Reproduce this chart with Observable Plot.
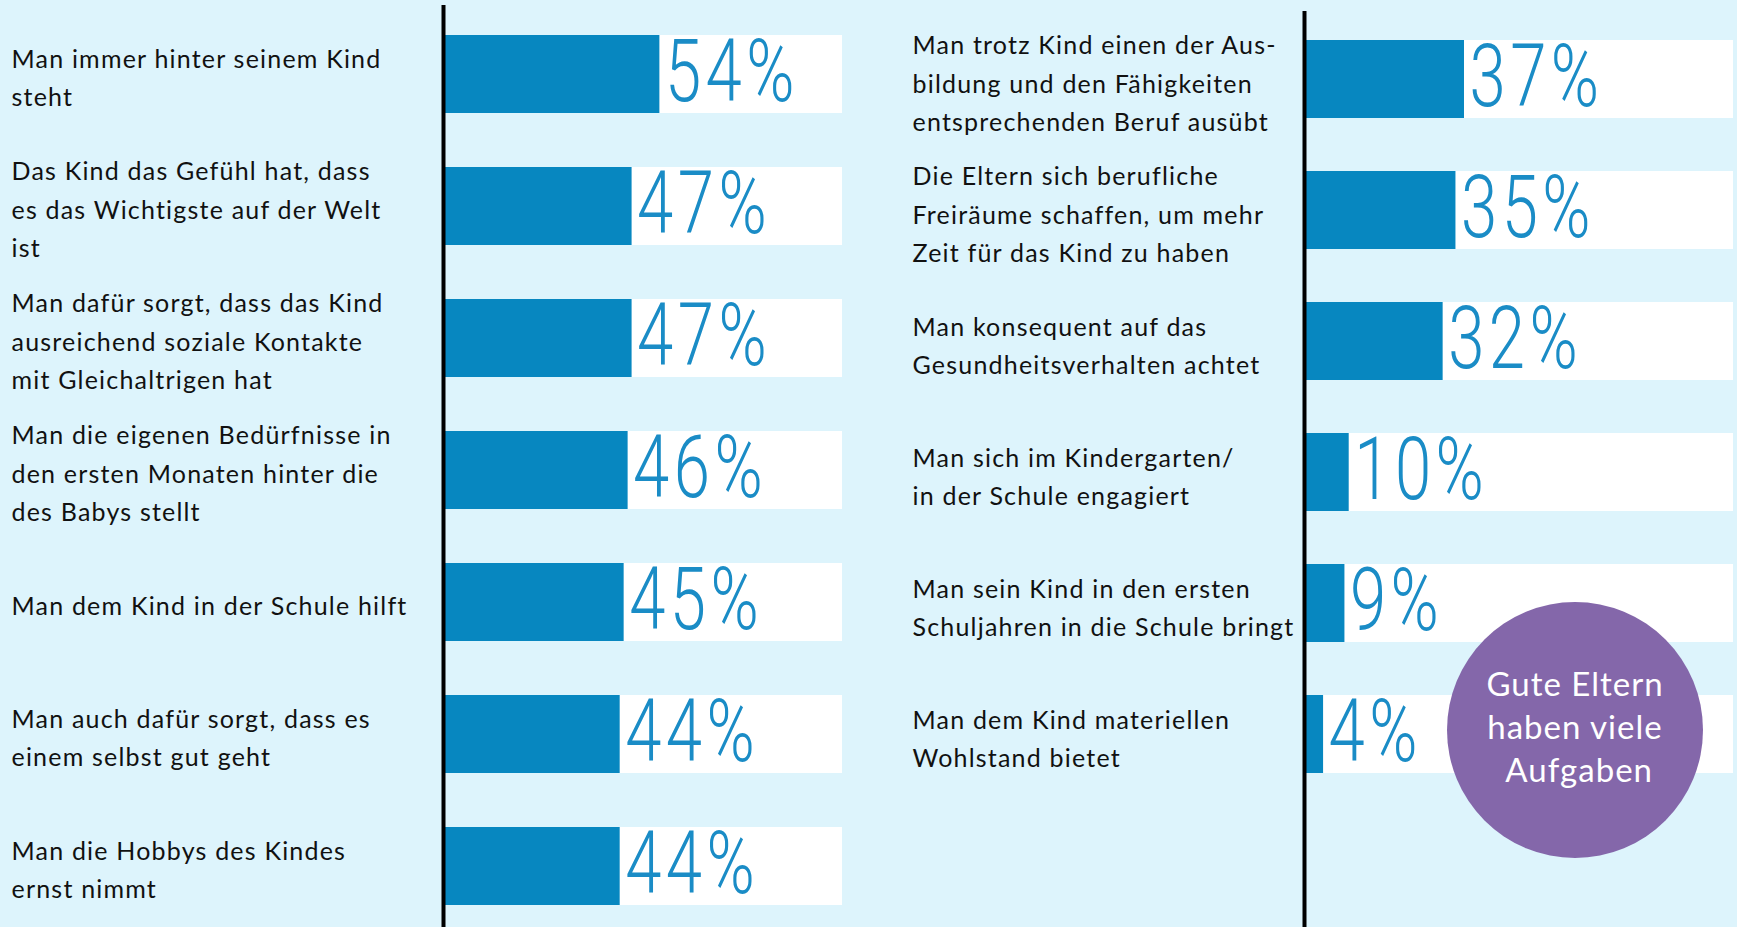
<!DOCTYPE html>
<html>
<head>
<meta charset="utf-8">
<script src="https://cdn.jsdelivr.net/npm/d3@7"></script>
<script src="https://cdn.jsdelivr.net/npm/@observablehq/plot@0.6"></script>
<style>
  html, body { margin: 0; padding: 0; background: #ddf4fc; }
  #wrap { position: relative; width: 1737px; height: 927px; overflow: hidden; background: #ddf4fc; }
  #left { position: absolute; left: 0; top: 0; }
  #right { position: absolute; left: 870px; top: 0; }
  #badge {
    position: absolute; left: 1447px; top: 602px; width: 256px; height: 256px;
    border-radius: 50%; background: #8467aa; color: #fff;
    display: flex; align-items: center; justify-content: center; text-align: center;
    font-family: Lato, sans-serif; font-size: 33px; line-height: 43px; letter-spacing: 1px;
  }
  #badge span { display: block; margin-top: -8px; }
</style>
</head>
<body>
<div id="wrap">
  <div id="left"></div>
  <div id="right"></div>
  <div id="badge"><span>Gute Eltern<br>haben viele<br>&nbsp;Aufgaben</span></div>
</div>
<script>
const leftLabels = [
  "Man immer hinter seinem Kind\nsteht",
  "Das Kind das Gefühl hat, dass\nes das Wichtigste auf der Welt\nist",
  "Man dafür sorgt, dass das Kind\nausreichend soziale Kontakte\nmit Gleichaltrigen hat",
  "Man die eigenen Bedürfnisse in\nden ersten Monaten hinter die\ndes Babys stellt",
  "Man dem Kind in der Schule hilft",
  "Man auch dafür sorgt, dass es\neinem selbst gut geht",
  "Man die Hobbys des Kindes\nernst nimmt"
];
const leftValues = [54, 47, 47, 46, 45, 44, 44];

const rightLabels = [
  "Man trotz Kind einen der Aus-\nbildung und den Fähigkeiten\nentsprechenden Beruf ausübt",
  "Die Eltern sich berufliche\nFreiräume schaffen, um mehr\nZeit für das Kind zu haben",
  "Man konsequent auf das\nGesundheitsverhalten achtet",
  "Man sich im Kindergarten/\nin der Schule engagiert",
  "Man sein Kind in den ersten\nSchuljahren in die Schule bringt",
  "Man dem Kind materiellen\nWohlstand bietet"
];
const rightValues = [37, 35, 32, 10, 9, 4];

const maxValue = 100;

const BAR = "#0787c0";
const TEXTBLUE = "#1a8cc6";

function panel(labels, values, opts) {
  const data = labels.map((label, i) => ({label, value: values[i], full: maxValue}));
  const chart = Plot.plot({
    width: opts.width,
    height: 927,
    marginLeft: opts.marginLeft,
    marginRight: opts.marginRight,
    marginTop: 0,
    marginBottom: 0,
    style: {background: "transparent", overflow: "visible"},
    x: {domain: [0, maxValue], axis: null},
    y: {domain: labels, range: opts.yRange, paddingInner: opts.pi, paddingOuter: opts.po, axis: null},
    marks: [
      Plot.barX(data, {y: "label", x: "full", fill: "white"}),
      Plot.barX(data, {y: "label", x: "value", fill: BAR}),
      Plot.ruleX([0], {stroke: "#000", strokeWidth: 4, dx: -2, insetTop: opts.ruleTop}),
      Plot.text(data, {
        y: "label", text: "label", frameAnchor: "left", textAnchor: "start",
        dx: opts.labelX - opts.marginLeft, dy: opts.labelDy,
        fontFamily: "Lato, sans-serif", fontSize: 25, lineHeight: 1.54, fill: "#111"
      }),
      Plot.text(data, {
        y: "label", x: "value", text: d => d.value + "%", textAnchor: "start",
        dx: 5, dy: -1,
        fontFamily: "Roboto, sans-serif", fontWeight: 300, fontSize: 87, fill: TEXTBLUE
      })
    ]
  });
  const groups = chart.querySelectorAll('g[aria-label="text"]');
  // groups[0] = category labels, groups[1] = value labels
  d3.select(groups[0]).selectAll("text").attr("letter-spacing", "1.2");
  d3.select(groups[1]).selectAll("text").each(function() {
    const t = this.getAttribute("transform") || "";
    this.setAttribute("transform", t + " scale(0.75,1)");
    this.setAttribute("letter-spacing", "6");
  });
  return chart;
}

document.getElementById("left").append(panel(leftLabels, leftValues, {
  width: 870, marginLeft: 445, marginRight: 28, yRange: [0, 939], pi: 0.4113, po: 0.249,
  ruleTop: 5, labelX: 11, labelDy: 0
}));
document.getElementById("right").append(panel(rightLabels, rightValues, {
  width: 867, marginLeft: 436, marginRight: 4, yRange: [0, 813], pi: 0.408, po: 0.288,
  ruleTop: 11, labelX: 42, labelDy: 1
}));
</script>
</body>
</html>
